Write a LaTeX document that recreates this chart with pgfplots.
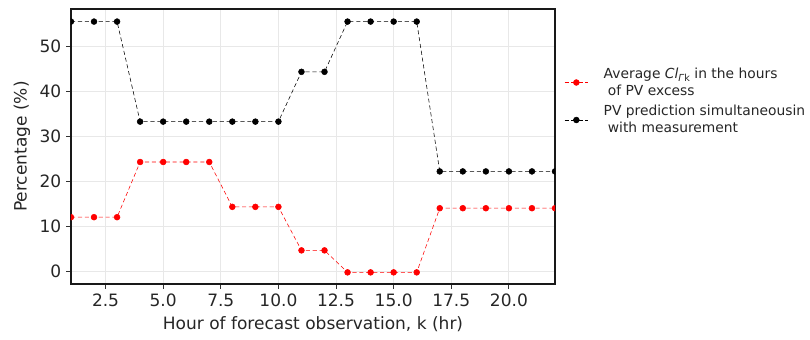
\documentclass[border=0pt]{standalone}
\usepackage{pgfplots}
\pgfplotsset{compat=1.18}
\usepackage{fontspec}
\setmainfont{DejaVu Sans}
\begin{document}
\begin{tikzpicture}
\begin{axis}[
  scale only axis, width=348.5bp, height=198bp,
  xmin=1, xmax=22, ymin=-2.9, ymax=58.4,
  xtick={2.5,5,...,20}, ytick={0,10,...,50},
  xticklabel style={/pgf/number format/.cd, fixed, fixed zerofill, precision=1},
  /pgf/number format/assume math mode=true,
  tick label style={font=\fontsize{12.3}{14}\selectfont, text=black!85},
  label style={font=\fontsize{12.3}{14}\selectfont, text=black!85},
  tick pos=left, tick align=outside,
  major tick length=3.5bp,
  tick style={black!80, line width=0.6pt},
  axis line style={black!90, line width=0.8pt},
  grid=major, grid style={gray!18, line width=0.6pt},
  clip marker paths=true,
  xlabel={Hour of forecast observation, k (hr)},
  ylabel={Percentage (\%)},
  legend cell align=left,
  legend style={draw=none, fill=none, at={(1.010,0.807)}, anchor=north west,
    cells={align=left}, row sep=2bp, font=\fontsize{10}{12}\selectfont, text=black!85,
    /tikz/every odd column/.append style={column sep=9bp}},
]
\addplot[red, densely dashed, line width=0.4pt, mark=*, mark size=2.1bp, mark options={solid}]
coordinates {(1,12)(2,12)(3,12)(4,24.3)(5,24.3)(6,24.3)(7,24.3)(8,14.3)(9,14.3)(10,14.3)
(11,4.6)(12,4.6)(13,-0.3)(14,-0.3)(15,-0.3)(16,-0.3)(17,14)(18,14)(19,14)(20,14)(21,14)(22,14)};
\addlegendentry{Average \textit{Cl}\raisebox{-0.35ex}{\scriptsize\textit{Γ}k} in the hours\\\hspace{3bp}of PV excess}
\addplot[black, densely dashed, line width=0.4pt, mark=*, mark size=2.1bp, mark options={solid}]
coordinates {(1,55.6)(2,55.6)(3,55.6)(4,33.3)(5,33.3)(6,33.3)(7,33.3)(8,33.3)(9,33.3)(10,33.3)
(11,44.4)(12,44.4)(13,55.6)(14,55.6)(15,55.6)(16,55.6)(17,22.2)(18,22.2)(19,22.2)(20,22.2)(21,22.2)(22,22.2)};
\addlegendentry{PV prediction simultaneousin\\\hspace{3bp}with measurement}
\end{axis}
\pgfresetboundingbox
\path[use as bounding box] ([shift={(-51.1bp,-40.3bp)}]current axis.south west) rectangle ([shift={(183.6bp,6.5bp)}]current axis.north east);
\end{tikzpicture}
\end{document}
